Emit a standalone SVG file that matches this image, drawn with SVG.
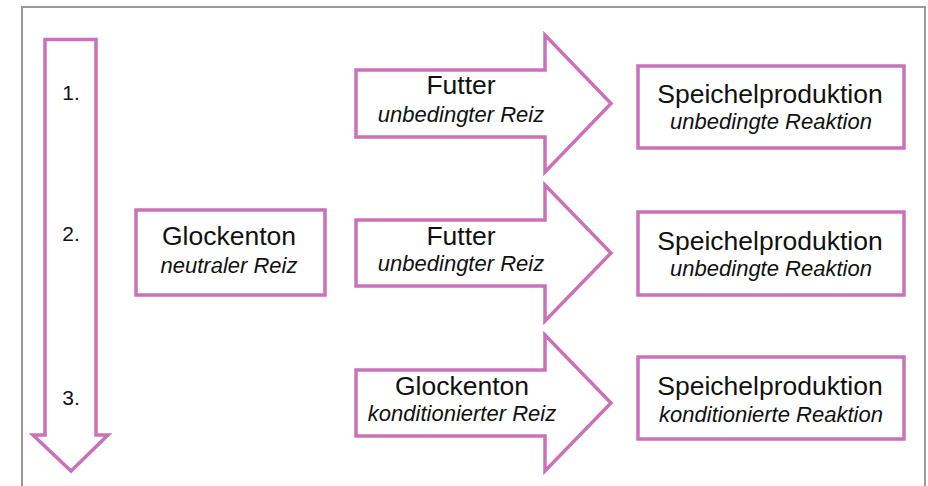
<svg xmlns="http://www.w3.org/2000/svg" width="928" height="486" viewBox="0 0 928 486">
<style>
.shape{fill:#fff;stroke:#C971B9;stroke-width:3.5;stroke-linejoin:miter}
.t{font-family:"Liberation Sans",Arial,sans-serif;fill:#111;text-anchor:middle}
.m{font-size:26.5px}
.i{font-size:22px;font-style:italic}
.n{font-size:21px}
</style>
<rect width="928" height="486" fill="#fff"/>
<path d="M22,490 V7 H925 V490" fill="none" stroke="#9a9a9a" stroke-width="2"/>
<g id="timeline">
<path class="shape" d="M45,39.5 H96 V435 H108 L71,471 L33,435 H45 Z"/>
<text class="t n" x="71" y="100">1.</text>
<text class="t n" x="71" y="241">2.</text>
<text class="t n" x="71" y="405">3.</text>
</g>
<g id="neutral">
<rect class="shape" x="136" y="210" width="189" height="85"/>
<text class="t m" x="229" y="245">Glockenton</text>
<text class="t i" x="229" y="273">neutraler Reiz</text>
</g>
<g id="futter1">
<path class="shape" d="M356,70 H545 V35 L611,103.5 L545,172 V137 H356 Z"/>
<text class="t m" x="461" y="94">Futter</text>
<text class="t i" x="461" y="122">unbedingter Reiz</text>
</g>
<g id="futter2">
<path class="shape" d="M356,220 H545 V185 L611,253 L545,321 V286 H356 Z"/>
<text class="t m" x="461" y="245">Futter</text>
<text class="t i" x="461" y="271">unbedingter Reiz</text>
</g>
<g id="glocke3">
<path class="shape" d="M356,370 H545 V335 L611,403 L545,471 V436 H356 Z"/>
<text class="t m" x="462" y="395">Glockenton</text>
<text class="t i" x="462" y="421">konditionierter Reiz</text>
</g>
<g id="speichel1">
<rect class="shape" x="638" y="66" width="266" height="82"/>
<text class="t m" x="770" y="103">Speichelproduktion</text>
<text class="t i" x="771" y="129">unbedingte Reaktion</text>
</g>
<g id="speichel2">
<rect class="shape" x="638" y="212" width="266" height="83"/>
<text class="t m" x="770" y="250">Speichelproduktion</text>
<text class="t i" x="771" y="276">unbedingte Reaktion</text>
</g>
<g id="speichel3">
<rect class="shape" x="638" y="357" width="266" height="82"/>
<text class="t m" x="770" y="395">Speichelproduktion</text>
<text class="t i" x="771" y="422">konditionierte Reaktion</text>
</g>
<g id="connectors"></g>
</svg>
